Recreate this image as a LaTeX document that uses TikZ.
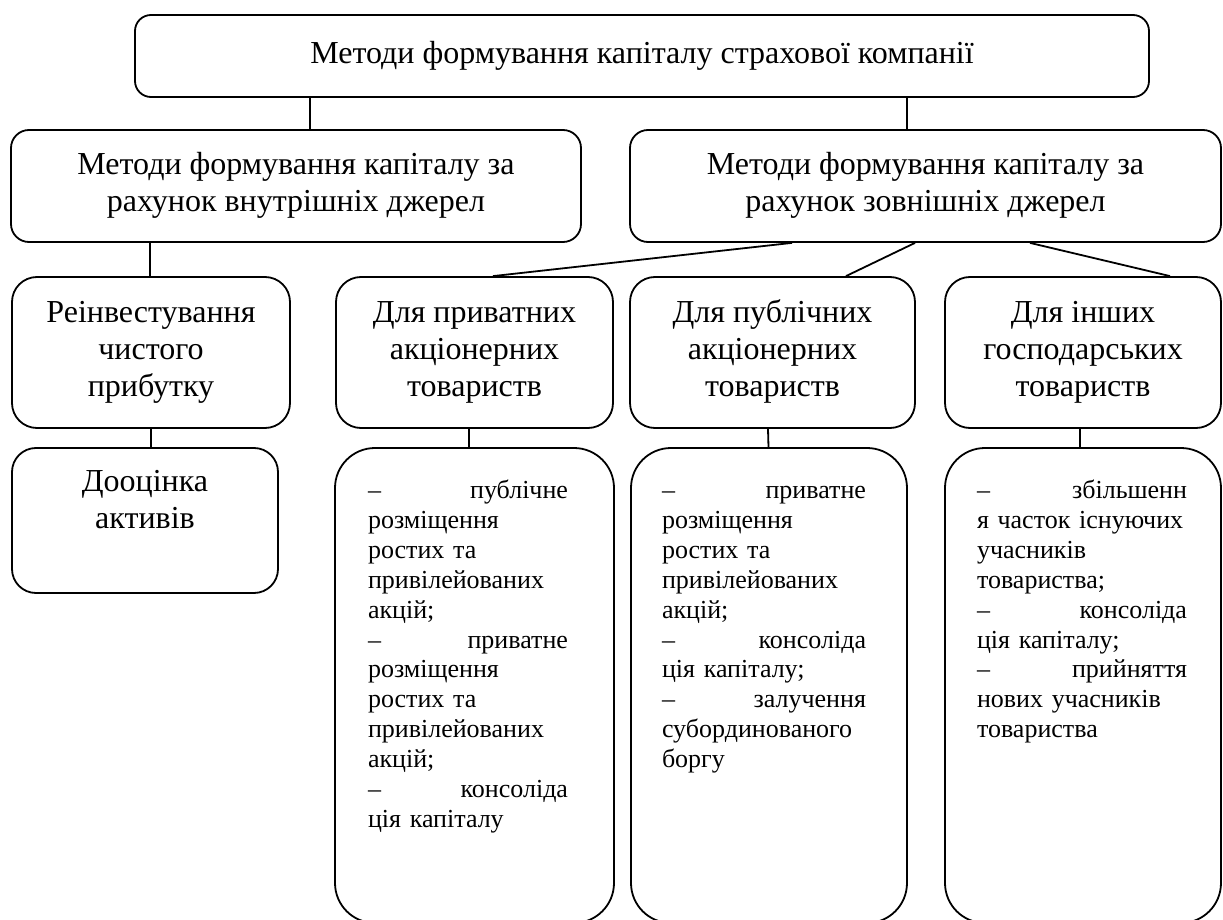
\documentclass[tikz,border=0pt]{standalone}
\usepackage{fontspec}
\setmainfont{Liberation Serif}
\begin{document}
\begin{tikzpicture}[x=0.5pt, y=-0.5pt, line width=0.9pt,
    box/.style={draw, rounded corners=#1, inner sep=0pt},
    box/.default=9pt,
    bigfont/.style={font=\fontsize{16}{18.5}\selectfont},
    smallfont/.style={font=\fontsize{13}{15}\selectfont}]

    \path[use as bounding box, clip] (0,0) rectangle (1223,920);

    \node[box=8pt, minimum width=507pt, minimum height=41pt, bigfont] (top) at (642,56)
        {\strut Методи формування капіталу страхової компанії};

    \node[box, minimum width=285pt, minimum height=56pt, bigfont, align=center] (inner) at (296,186)
        {\strut Методи формування капіталу за\\рахунок внутрішніх джерел\strut};
    \node[box, minimum width=295.5pt, minimum height=56pt, bigfont, align=center] (outer) at (925.5,186)
        {\strut Методи формування капіталу за\\рахунок зовнішніх джерел\strut};

    \node[box=12.5pt, minimum width=139pt, minimum height=75.5pt, bigfont, align=center] (reinv) at (151,352.5)
        {\strut Реінвестування\\чистого\\прибутку\strut};
    \node[box=12.5pt, minimum width=138.5pt, minimum height=75.5pt, bigfont, align=center] (priv) at (474.5,352.5)
        {\strut Для приватних\\акціонерних\\товариств\strut};
    \node[box=12.5pt, minimum width=142.5pt, minimum height=75.5pt, bigfont, align=center] (publ) at (772.5,352.5)
        {\strut Для публічних\\акціонерних\\товариств\strut};
    \node[box=12.5pt, minimum width=138pt, minimum height=75.5pt, bigfont, align=center] (inshi) at (1083,352.5)
        {\strut Для інших\\господарських\\товариств\strut};

    \node[box=12pt, minimum width=133pt, minimum height=72.5pt] (dooc) at (145,520.5) {};
    \node[bigfont, align=center, inner sep=0pt, anchor=north] (doocT) at ([yshift=-9pt]dooc.north)
        {\strut Дооцінка\\активів};

    \node[box=20pt, minimum width=139.5pt, minimum height=237.5pt] (privM) at (474.5,685.5) {};
    \node[box=20pt, minimum width=138pt, minimum height=237.5pt] (publM) at (769,685.5) {};
    \node[box=20pt, minimum width=138pt, minimum height=237.5pt] (inshiM) at (1083,685.5) {};

    \node[smallfont, text width=100pt, align=left, inner sep=0pt, anchor=north west] (privT)
        at ([xshift=16.5pt,yshift=-14.5pt]privM.north west)
        {\strut–\hfill публічне\\розміщення\\ростих та\\привілейованих\\акцій;\\
         –\hfill приватне\\розміщення\\ростих та\\привілейованих\\акцій;\\
         –\hfill консоліда\\ція капіталу};
    \node[smallfont, text width=102pt, align=left, inner sep=0pt, anchor=north west] (publT)
        at ([xshift=15.5pt,yshift=-14.5pt]publM.north west)
        {\strut–\hfill приватне\\розміщення\\ростих та\\привілейованих\\акцій;\\
         –\hfill консоліда\\ція капіталу;\\
         –\hfill залучення\\субординованого\\боргу};
    \node[smallfont, text width=105pt, align=left, inner sep=0pt, anchor=north west] (inshiT)
        at ([xshift=16pt,yshift=-14.5pt]inshiM.north west)
        {\strut–\hfill збільшенн\\я часток існуючих\\учасників\\товариства;\\
         –\hfill консоліда\\ція капіталу;\\
         –\hfill прийняття\\нових учасників\\товариства};

    \draw ([xshift=-166pt]top.south) -- ([xshift=7pt]inner.north);
    \draw ([xshift=132.5pt]top.south) -- ([xshift=-9.25pt]outer.north);
    \draw ([xshift=-73pt]inner.south) -- ([xshift=-0.5pt]reinv.north);
    \draw ([xshift=-66.75pt]outer.south) -- ([xshift=9.25pt]priv.north);
    \draw ([xshift=-5.25pt]outer.south) -- ([xshift=36.75pt]publ.north);
    \draw ([xshift=52.25pt]outer.south) -- ([xshift=43.5pt]inshi.north);
    \draw (reinv.south) -- ([xshift=3pt]dooc.north);
    \draw ([xshift=-2.75pt]priv.south) -- ([xshift=-2.75pt]privM.north);
    \draw ([xshift=-2.25pt]publ.south) -- ([xshift=-0.25pt]publM.north);
    \draw ([xshift=-1.5pt]inshi.south) -- ([xshift=-1.5pt]inshiM.north);
\end{tikzpicture}
\end{document}
